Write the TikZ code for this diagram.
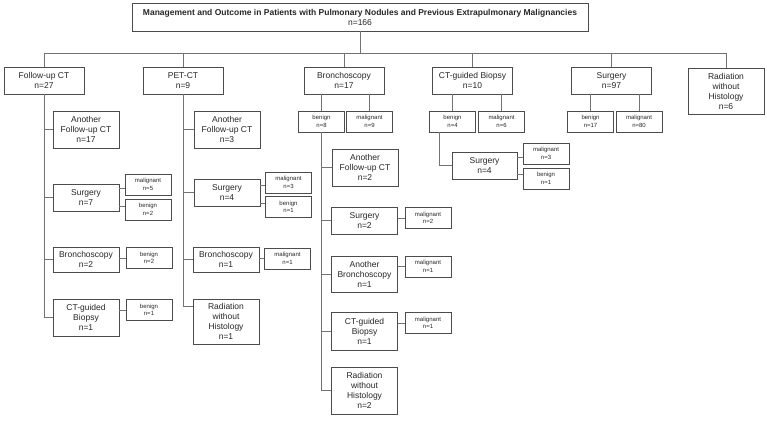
\documentclass[tikz,border=0pt]{standalone}
\usepackage{fontspec}
\setmainfont{Liberation Sans}
\begin{document}
\begin{tikzpicture}[x=1pt,y=-1pt,
  box/.style={draw=black!70,line width=0.8pt,inner sep=0pt,align=center,text=black!85,
    font=\fontsize{8.5}{10}\selectfont,minimum width=66pt,minimum height=27pt},
  smallbox/.style={box,font=\fontsize{6}{7.5}\selectfont,minimum width=46pt,minimum height=21pt},
  link/.style={draw=black!55,line width=0.8pt}]
  \useasboundingbox (0,0) rectangle (767,421);
  % top box and first level
  \node [box,minimum width=456pt,minimum height=28pt] (title) at (360,17)
    {\textbf{Management and Outcome in Patients with Pulmonary Nodules and Previous Extrapulmonary Malignancies}\\n=166};
  \coordinate (bus) at (0,53);
  \node [box,minimum width=80pt] (fct) at (44,80.5) {Follow-up CT\\n=27};
  \node [box,minimum width=80pt] (pet) at (183,80.5) {PET-CT\\n=9};
  \node [box,minimum width=80pt] (bro) at (344,80.5) {Bronchoscopy\\n=17};
  \node [box,minimum width=80pt] (ctb) at (472.5,80.5) {CT-guided Biopsy\\n=10};
  \node [box,minimum width=80pt] (sur) at (611.5,80.5) {Surgery\\n=97};
  \node [box,minimum width=76pt,minimum height=46pt] (rad) at (726,91) {Radiation\\without\\Histology\\n=6};
  \draw [link] (title.south) -- (title.south |- bus);
  \draw [link] (fct.north) -- (fct.north |- bus) -- (rad.north |- bus) -- (rad.north);
  \foreach \n in {pet,bro,ctb,sur}
    \draw [link] (\n.north) -- (\n.north |- bus);
  % benign / malignant under the first level
  \node [smallbox] (bro-b) at (321.5,121.5) {benign\\n=8};
  \node [smallbox] (bro-m) at (369.5,121.5) {malignant\\n=9};
  \node [smallbox] (ctb-b) at (452.5,121.5) {benign\\n=4};
  \node [smallbox] (ctb-m) at (501.5,121.5) {malignant\\n=6};
  \node [smallbox] (sur-b) at (590.5,121.5) {benign\\n=17};
  \node [smallbox] (sur-m) at (639,121.5) {malignant\\n=80};
  \foreach \p in {bro,ctb,sur}
    \foreach \c in {b,m}
      \draw [link] (\p-\c.north) -- (\p-\c.north |- \p.south);
  % follow-up CT branch
  \node [box,minimum height=37pt] (fct1) at (86,129.5) {Another\\Follow-up CT\\n=17};
  \node [box] (fct2) at (86,197.5) {Surgery\\n=7};
  \node [smallbox] (fct2m) at (148,184.5) {malignant\\n=5};
  \node [smallbox] (fct2b) at (148,209.5) {benign\\n=2};
  \node [box,minimum height=25pt] (fct3) at (86,259.5) {Bronchoscopy\\n=2};
  \node [smallbox] (fct3b) at (149,258) {benign\\n=2};
  \node [box,minimum height=37pt] (fct4) at (86,317.5) {CT-guided\\Biopsy\\n=1};
  \node [smallbox] (fct4b) at (149,310) {benign\\n=1};
  \draw [link] (fct.south) |- (fct4.west);
  \foreach \c in {fct1,fct2,fct3}
    \draw [link] (\c.west) -- (\c.west -| fct.south);
  \draw [link] ([yshift=-4pt]fct2m.west) -- ([yshift=-4pt]fct2m.west -| fct2.east);
  \draw [link] ([yshift=3pt]fct2b.west) -- ([yshift=3pt]fct2b.west -| fct2.east);
  \draw [link] (fct3b.west) -- (fct3b.west -| fct3.east);
  \draw [link] (fct4b.west) -- (fct4b.west -| fct4.east);
  % PET-CT branch
  \node [box,minimum height=37pt] (pet1) at (227,129.5) {Another\\Follow-up CT\\n=3};
  \node [box] (pet2) at (227,192.5) {Surgery\\n=4};
  \node [smallbox] (pet2m) at (288.5,182.5) {malignant\\n=3};
  \node [smallbox] (pet2b) at (288.5,207) {benign\\n=1};
  \node [box,minimum height=25pt] (pet3) at (226,259.5) {Bronchoscopy\\n=1};
  \node [smallbox] (pet3m) at (287.5,258.5) {malignant\\n=1};
  \node [box,minimum height=45pt] (pet4) at (226,321.5) {Radiation\\without\\Histology\\n=1};
  \draw [link] (pet.south) |- ([yshift=15.5pt]pet4.west);
  \foreach \c in {pet1,pet2,pet3}
    \draw [link] (\c.west) -- (\c.west -| pet.south);
  \draw [link] ([yshift=-3pt]pet2m.west) -- ([yshift=-3pt]pet2m.west -| pet2.east);
  \draw [link] ([yshift=4pt]pet2b.west) -- ([yshift=4pt]pet2b.west -| pet2.east);
  \draw [link] (pet3m.west) -- (pet3m.west -| pet3.east);
  % bronchoscopy benign branch
  \node [box,minimum height=37pt] (bc1) at (365,167.5) {Another\\Follow-up CT\\n=2};
  \node [box] (bc2) at (364.5,220.5) {Surgery\\n=2};
  \node [smallbox] (bc2m) at (428,218) {malignant\\n=2};
  \node [box,minimum height=36pt] (bc3) at (364.5,274) {Another\\Bronchoscopy\\n=1};
  \node [smallbox] (bc3m) at (428,266.5) {malignant\\n=1};
  \node [box,minimum height=38pt] (bc4) at (364.5,331) {CT-guided\\Biopsy\\n=1};
  \node [smallbox] (bc4m) at (428,323) {malignant\\n=1};
  \node [box,minimum height=47pt] (bc5) at (364.5,390.5) {Radiation\\without\\Histology\\n=2};
  \draw [link] (bro-b.south) |- (bc5.west);
  \foreach \c in {bc1,bc2,bc3,bc4}
    \draw [link] (\c.west) -- (\c.west -| bro-b.south);
  \foreach \c in {bc2,bc3,bc4}
    \draw [link] (\c m.west) -- (\c m.west -| \c.east);
  % CT-guided biopsy benign branch
  \node [box,minimum width=65pt] (cs) at (484.5,165.5) {Surgery\\n=4};
  \node [smallbox] (csm) at (546,153.5) {malignant\\n=3};
  \node [smallbox] (csb) at (546,178.5) {benign\\n=1};
  \draw [link] ([xshift=-13.5pt]ctb-b.south) |- (cs.west);
  \draw [link] ([yshift=-3.5pt]csm.west) -- ([yshift=-3.5pt]csm.west -| cs.east);
  \draw [link] ([yshift=4.5pt]csb.west) -- ([yshift=4.5pt]csb.west -| cs.east);
\end{tikzpicture}
\end{document}
